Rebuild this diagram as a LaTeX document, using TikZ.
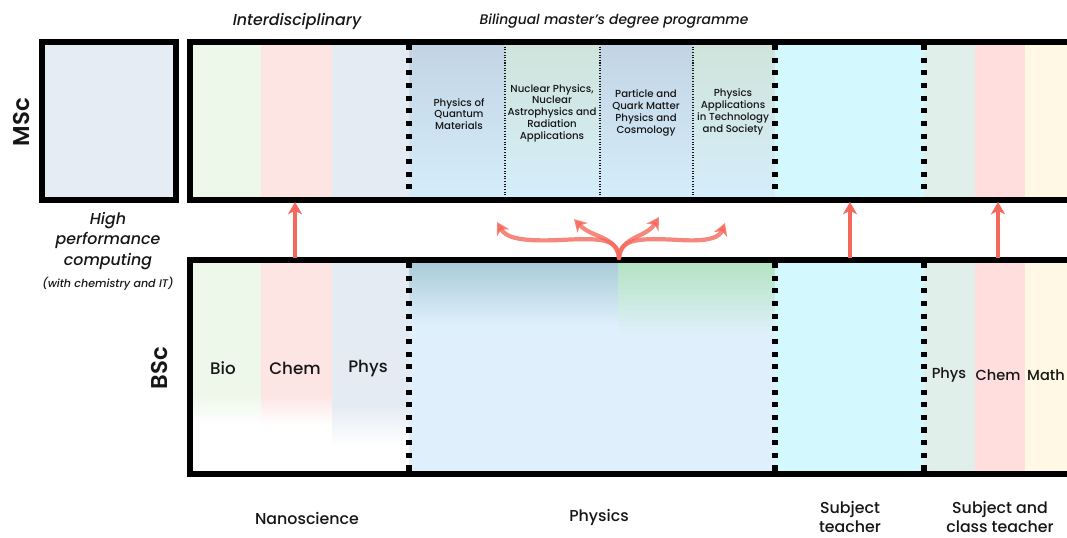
\documentclass[tikz,border=0pt]{standalone}
\usepackage{fontspec}
\setmainfont{Poppins Medium}[ItalicFont={Poppins Medium Italic}, BoldFont={Poppins SemiBold}]
\usetikzlibrary{arrows.meta}

\definecolor{hpcgrey}{HTML}{E6ECF3}
\definecolor{biogreen}{HTML}{EEF8EA}
\definecolor{chempink}{HTML}{FDE5E4}
\definecolor{physgrey}{HTML}{E5EBF2}
\definecolor{msctop}{HTML}{C2D4E4}
\definecolor{msctopg}{HTML}{CFE4DA}
\definecolor{mscbot}{HTML}{D5EDFB}
\definecolor{bscblue}{HTML}{DFF0FC}
\definecolor{bsctop}{HTML}{A7CAD6}
\definecolor{bscgreen}{HTML}{B3E2C0}
\definecolor{teachcyan}{HTML}{D3F9FF}
\definecolor{tphys}{HTML}{E1EFEB}
\definecolor{tchem}{HTML}{FFDEDD}
\definecolor{tmath}{HTML}{FFF8E4}
\definecolor{arrowred}{HTML}{F4695B}
\definecolor{ink}{HTML}{161616}

\tikzset{
  frame/.style={line width=2.9pt},
  bigsep/.style={line width=2.9pt, dash pattern=on 2.9pt off 4.3pt},
  smallsep/.style={line width=0.6pt, dash pattern=on 0.6pt off 0.9pt, ink},
  redarrow/.style={arrowred, line width=1.8pt, -{Stealth[length=7pt,width=8pt,inset=2pt]}},
  branch/.style={arrowred, opacity=0.8, line width=2.4pt, line cap=round,
    -{Stealth[length=7pt,width=8pt,inset=2pt]}},
  lbl/.style={ink, font=\fontsize{9}{11}\selectfont, align=center, inner sep=0pt},
  toplbl/.style={ink, font=\fontsize{9}{11}\selectfont\itshape, inner sep=0pt},
  track/.style={ink, font=\fontsize{5.8}{6.7}\selectfont, align=center, inner sep=0pt},
  level/.style={ink, font=\fontsize{13}{15}\selectfont\bfseries, rotate=90, inner sep=0pt}
}

\begin{document}
\begin{tikzpicture}[x=0.02cm,y=-0.02cm]
  \useasboundingbox (0,0) rectangle (1067,537);

  % --- MSc fills ---
  \fill[hpcgrey] (42,42) rectangle (176,200);
  \fill[biogreen] (190,42) rectangle (261,200);
  \fill[chempink] (261,42) rectangle (332,200);
  \fill[physgrey] (332,42) rectangle (409,200);
  \fill[top color=msctop, bottom color=mscbot] (409,42) rectangle (505,200);
  \fill[top color=msctopg, bottom color=mscbot] (505,42) rectangle (600,200);
  \fill[top color=msctop, bottom color=mscbot] (600,42) rectangle (693,200);
  \fill[top color=msctopg, bottom color=mscbot] (693,42) rectangle (775,200);
  \fill[teachcyan] (775,42) rectangle (924,200);
  \fill[tphys] (924,42) rectangle (975,200);
  \fill[tchem] (975,42) rectangle (1025,200);
  \fill[tmath] (1025,42) rectangle (1080,200);

  % --- BSc fills ---
  \fill[biogreen] (190,260) rectangle (261,395);
  \fill[top color=biogreen, bottom color=white] (190,395) rectangle (261,425);
  \fill[chempink] (261,260) rectangle (332,395);
  \fill[top color=chempink, bottom color=white] (261,395) rectangle (332,425);
  \fill[physgrey] (332,260) rectangle (409,405);
  \fill[top color=physgrey, bottom color=white] (332,405) rectangle (409,445);
  \fill[bscblue] (409,260) rectangle (775,474);
  \fill[top color=bsctop, bottom color=bscblue] (409,260) rectangle (618,325);
  \fill[top color=bscgreen, bottom color=bscblue] (618,260) rectangle (775,335);
  \fill[teachcyan] (775,260) rectangle (924,474);
  \fill[tphys] (924,260) rectangle (975,474);
  \fill[tchem] (975,260) rectangle (1025,474);
  \fill[tmath] (1025,260) rectangle (1080,474);

  % --- separators ---
  \foreach \x in {409,775,924} {
    \draw[bigsep] (\x,45) -- (\x,199);
    \draw[bigsep] (\x,263) -- (\x,472);
  }
  \foreach \x in {505,600,693}
    \draw[smallsep] (\x,44) -- (\x,198);

  % --- frames ---
  \draw[frame] (42,42) rectangle (176,200);
  \draw[frame] (1090,42) -- (190,42) -- (190,200) -- (1090,200);
  \draw[frame] (1090,260) -- (190,260) -- (190,474) -- (1090,474);

  % --- straight arrows ---
  \coordinate (nanoB) at (295,258);
  \coordinate (nanoM) at (295,202);
  \coordinate (subjB) at (850,258);
  \coordinate (subjM) at (850,202);
  \coordinate (classB) at (998,258);
  \coordinate (classM) at (998,202);
  \draw[redarrow] (nanoB) -- (nanoM);
  \draw[redarrow] (subjB) -- (subjM);
  \draw[redarrow] (classB) -- (classM);

  % --- branching arrows into the four tracks ---
  \coordinate (root) at (619,258);
  \coordinate (quant) at (497,222);
  \coordinate (nucl) at (574,219);
  \coordinate (part) at (659,217);
  \coordinate (appl) at (725,223);
  \draw[branch] (root) .. controls (618,238) and (600,238) .. (560,240)
    .. controls (515,242) and (505,236) .. (quant);
  \draw[branch] (root) .. controls (617,236) and (592,238) .. (nucl);
  \draw[branch] (root) .. controls (621,236) and (646,238) .. (part);
  \draw[branch] (root) .. controls (620,238) and (640,238) .. (680,240)
    .. controls (712,242) and (720,236) .. (appl);

  % --- labels ---
  \node[toplbl] (inter) at (297,21) {Interdisciplinary};
  \node[toplbl, font=\fontsize{7.9}{10}\selectfont\itshape] (bilingual) at (614,21)
    {Bilingual master's degree programme};
  \node[level] (msc) at (22,122) {MSc};
  \node[level] (bsc) at (160,368) {BSc};

  \node[toplbl, align=center, font=\fontsize{9}{11.6}\selectfont\itshape] (hpc) at (108,241)
    {High\\performance\\computing};
  \node[toplbl, font=\fontsize{6.3}{7}\selectfont\itshape] (hpcsub) at (108,284)
    {(with chemistry and IT)};

  \node[lbl, font=\fontsize{9.5}{11}\selectfont] (bio) at (223,368) {Bio};
  \node[lbl, font=\fontsize{9.5}{11}\selectfont] (chem) at (295,368) {Chem};
  \node[lbl, font=\fontsize{9.5}{11}\selectfont] (phys) at (368,368) {Phys};

  \node[track] (quantum) at (459,114) {Physics of\\Quantum\\Materials};
  \node[track] (nuclear) at (552,113) {Nuclear Physics,\\Nuclear\\Astrophysics and\\Radiation\\Applications};
  \node[track] (particle) at (646,113) {Particle and\\Quark Matter\\Physics and\\Cosmology};
  \node[track] (applic) at (733,112) {Physics\\Applications\\in Technology\\and Society};

  \node[lbl, font=\fontsize{8.3}{10}\selectfont] (tphysl) at (949,375) {Phys};
  \node[lbl, font=\fontsize{8.3}{10}\selectfont] (tcheml) at (998,375) {Chem};
  \node[lbl, font=\fontsize{8.3}{10}\selectfont] (tmathl) at (1046,375) {Math};

  \node[lbl] (nano) at (307,518) {Nanoscience};
  \node[lbl] (physics) at (599,517) {Physics};
  \node[lbl] (subject) at (850,517) {Subject\\teacher};
  \node[lbl] (classt) at (1000,517) {Subject and\\class teacher};
\end{tikzpicture}
\end{document}
